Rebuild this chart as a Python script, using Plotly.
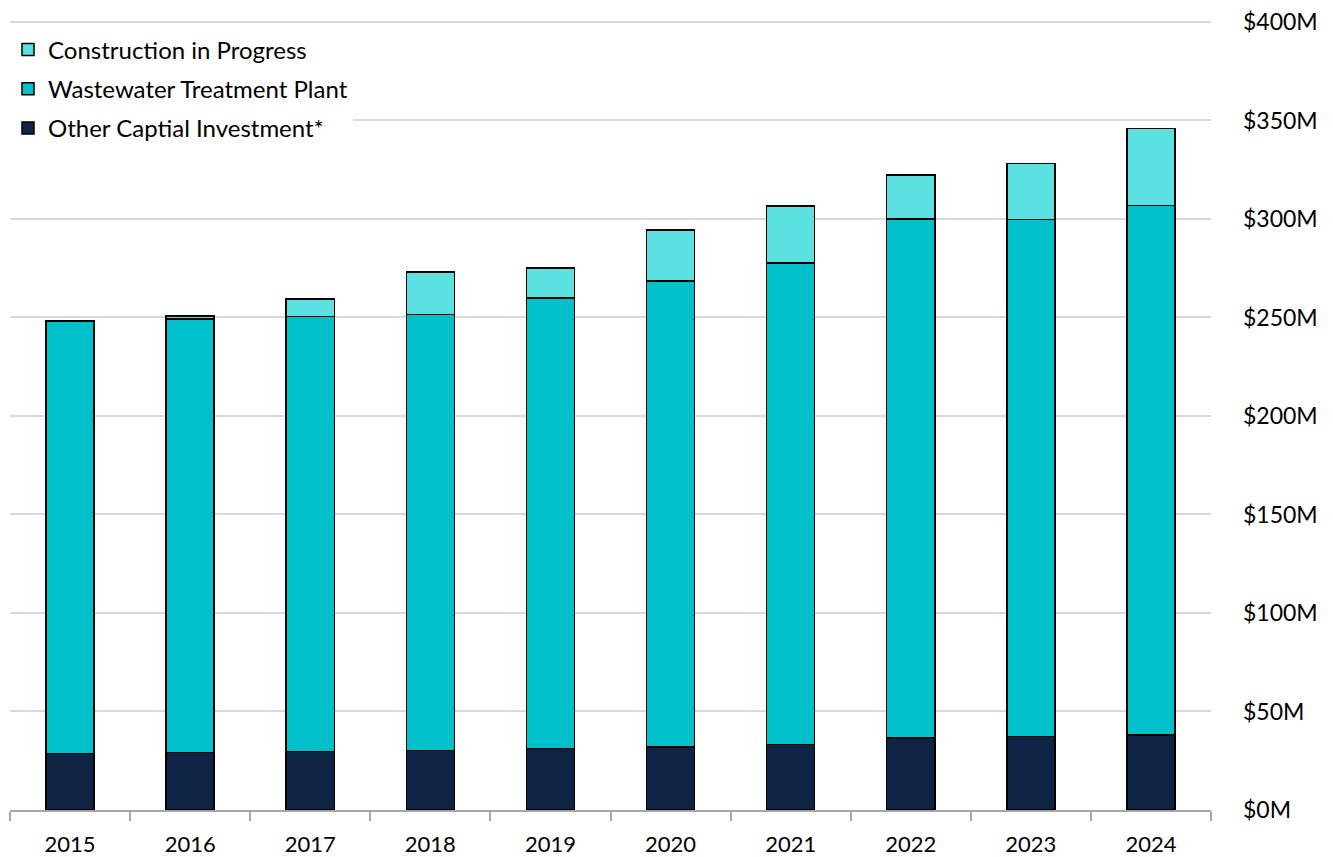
import plotly.graph_objects as go

years = ["2015", "2016", "2017", "2018", "2019", "2020", "2021", "2022", "2023", "2024"]
other_capital = [28.8, 29.3, 29.6, 30.3, 31.2, 32.0, 33.3, 36.5, 37.3, 38.1]
wastewater_plant = [219.4, 219.8, 220.8, 221.3, 228.7, 236.5, 244.4, 263.5, 262.5, 268.8]
construction = [0.3, 1.7, 9.0, 21.5, 15.2, 25.9, 28.9, 22.3, 28.4, 39.1]

y_ticks = [0, 50, 100, 150, 200, 250, 300, 350, 400]
y_labels = [f"${v}M" for v in y_ticks]

FONT = "Lato, Calibri, 'Open Sans', sans-serif"
line = dict(color="#000000", width=1.5)

fig = go.Figure()
fig.add_trace(go.Bar(x=years, y=other_capital, name="Other Captial Investment*",
                     legendgroup="a", legendrank=3, marker=dict(color="#0F2445", line=line)))
fig.add_trace(go.Bar(x=years, y=wastewater_plant, name="Wastewater Treatment Plant",
                     legendgroup="b", legendrank=2, marker=dict(color="#00C1C9", line=line)))
fig.add_trace(go.Bar(x=years, y=construction, name="Construction in Progress",
                     legendgroup="c", legendrank=1, marker=dict(color="#5CE1E3", line=line)))

fig.update_layout(
    width=1325, height=849,
    barmode="stack", bargap=0.6,
    plot_bgcolor="white", paper_bgcolor="white",
    margin=dict(l=1, r=122, t=10, b=47),
    font=dict(family=FONT, size=24, color="#000000"),
    showlegend=True,
    legend=dict(traceorder="grouped", x=-0.001, y=0.988, xanchor="left", yanchor="top",
                bgcolor="white", font=dict(size=24, family=FONT),
                tracegroupgap=5, itemwidth=30),
    xaxis=dict(showline=True, linecolor="#A6A6A6", linewidth=1.5,
               ticks="outside", tickson="boundaries", ticklen=9, tickcolor="#A6A6A6",
               tickwidth=1.5, showgrid=False, tickfont=dict(size=22, family=FONT),
               ticklabelstandoff=14),
    yaxis=dict(side="right", range=[0, 402], tickvals=y_ticks, ticktext=y_labels,
               showgrid=True, gridcolor="#D9D9D9", gridwidth=1.5, zeroline=False,
               showline=False, ticks="", ticklabelstandoff=31, ticklabeloverflow="allow",
               automargin=False, tickfont=dict(size=23, family=FONT)),
)

fig.write_html("out.html")
